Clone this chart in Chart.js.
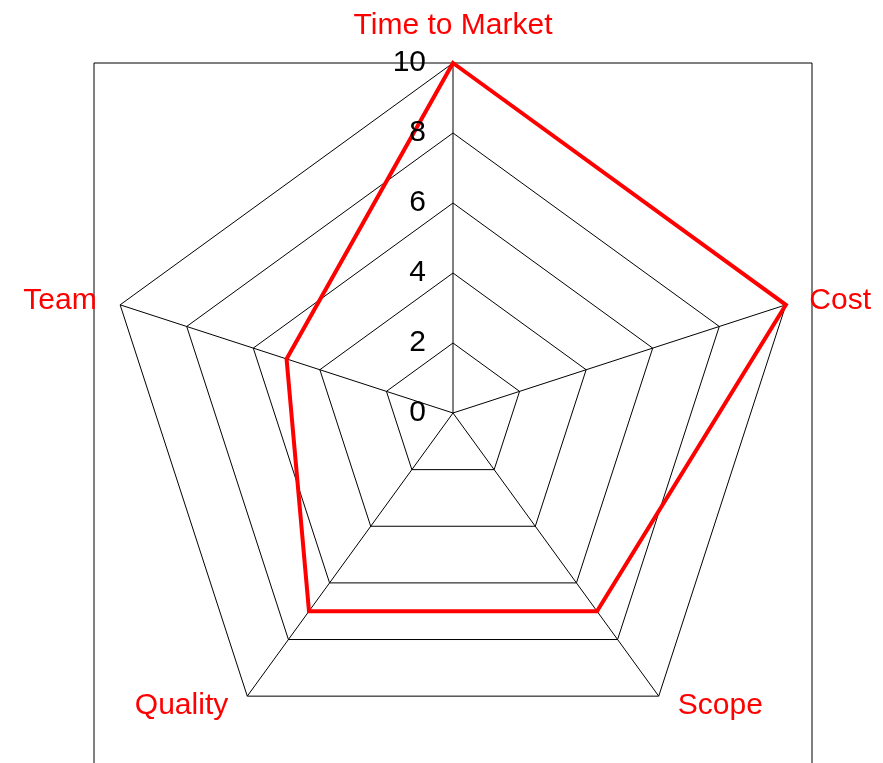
<!DOCTYPE html>
<html>
<head>
<meta charset="utf-8">
<script src="https://cdn.jsdelivr.net/npm/chart.js@4/dist/chart.umd.min.js"></script>
<style>
  html, body { margin: 0; padding: 0; background: #fff; }
  #wrap { width: 883px; height: 763px; position: relative; }
</style>
</head>
<body>
<div id="wrap"><canvas id="radar"></canvas></div>
<script>
// chart data
const categories = ['Time to Market', 'Cost', 'Scope', 'Quality', 'Team'];
const scores = [10, 10, 7, 7, 5];
const tickValues = [0, 2, 4, 6, 8, 10];

const FONT = "'Liberation Sans', Arial, sans-serif";

// draws the frame, the tick numbers and the red axis names
const radarText = {
    id: 'radarText',
    beforeDatasetsDraw(chart) {
        const r = chart.scales.r;
        const ctx = chart.ctx;
        const half = r.drawingArea + 9;
        ctx.save();
        ctx.strokeStyle = '#000';
        ctx.lineWidth = 1;
        ctx.beginPath();
        ctx.moveTo(r.xCenter - half, chart.height);
        ctx.lineTo(r.xCenter - half, r.yCenter - r.drawingArea);
        ctx.lineTo(r.xCenter + half, r.yCenter - r.drawingArea);
        ctx.lineTo(r.xCenter + half, chart.height);
        ctx.stroke();
        ctx.restore();
    },
    afterDraw(chart) {
        const r = chart.scales.r;
        const ctx = chart.ctx;
        ctx.save();

        // tick numbers, left of the vertical axis
        ctx.fillStyle = '#000';
        ctx.font = '30px ' + FONT;
        ctx.textAlign = 'right';
        ctx.textBaseline = 'middle';
        tickValues.forEach(function (v) {
            const y = r.yCenter - r.getDistanceFromCenterForValue(v);
            ctx.fillText(String(v), r.xCenter - 27, y);
        });

        // axis names
        ctx.fillStyle = '#ff0000';
        ctx.font = '30px ' + FONT;
        categories.forEach(function (name, i) {
            const extra = i === 0 ? 37 : 12;
            const p = r.getPointPosition(i, r.drawingArea + extra);
            const dx = p.x - r.xCenter;
            let x = p.x;
            if (Math.abs(dx) < 1) {
                ctx.textAlign = 'center';
            } else if (dx > 0) {
                ctx.textAlign = 'left';
                x += 12;
            } else {
                ctx.textAlign = 'right';
                x -= 12;
            }
            ctx.textBaseline = 'middle';
            ctx.fillText(name, x, p.y);
        });
        ctx.restore();
    }
};

const ctx = document.getElementById('radar').getContext('2d');
const radarChart = new Chart(ctx, {
    type: 'radar',
    data: {
        labels: categories,
        datasets: [{
            data: scores,
            borderColor: '#ff0000',
            borderWidth: 4,
            fill: false,
            pointRadius: 0,
            pointHoverRadius: 0
        }]
    },
    options: {
        responsive: true,
        maintainAspectRatio: false,
        animation: false,
        layout: { padding: { left: 103, right: 80, top: 63, bottom: 0 } },
        plugins: {
            legend: { display: false },
            tooltip: { enabled: false }
        },
        scales: {
            r: {
                min: 0,
                max: 10,
                ticks: { stepSize: 2, display: false },
                grid: { color: '#000', lineWidth: 1 },
                angleLines: { color: '#000', lineWidth: 1 },
                pointLabels: { display: false }
            }
        }
    },
    plugins: [radarText]
});
</script>
</body>
</html>
